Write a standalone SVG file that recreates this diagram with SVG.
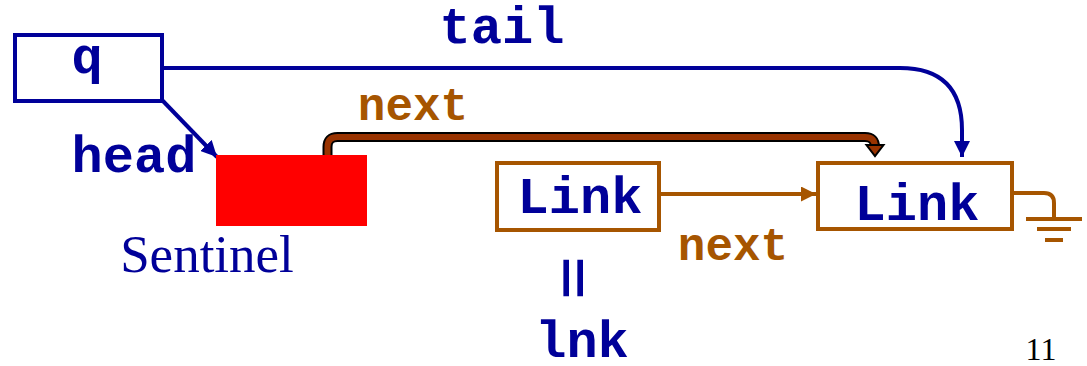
<svg xmlns="http://www.w3.org/2000/svg" width="1087" height="366" viewBox="0 0 1087 366">
  <style>
    .mono { font-family: "Liberation Mono", "DejaVu Sans Mono", monospace; font-weight: bold; text-anchor: middle; }
    .blue { fill: #000099; }
    .brown { fill: #A65500; }
    .big { font-size: 52px; }
    .small { font-size: 46px; }
    .serif { font-family: "Liberation Serif", "Times New Roman", serif; text-anchor: middle; }
    .boxB { fill: #ffffff; stroke: #000099; stroke-width: 4; }
    .boxO { fill: #ffffff; stroke: #A65500; stroke-width: 4; }
  </style>
  <defs>
    <marker id="arrBlue" viewBox="0 0 10 10" refX="10" refY="5" markerWidth="16" markerHeight="16" markerUnits="userSpaceOnUse" orient="auto">
      <path d="M0,0 L10,5 L0,10 z" fill="#000099"/>
    </marker>
    <marker id="arrBrown" viewBox="0 0 10 10" refX="10" refY="5" markerWidth="15" markerHeight="15" markerUnits="userSpaceOnUse" orient="auto">
      <path d="M0,0 L10,5 L0,10 z" fill="#A65500"/>
    </marker>
  </defs>

  <!-- connectors -->
  <g id="connectors" fill="none">
    <!-- q -> tail Link -->
    <path d="M162,68 H900 Q962,68 962,130 V157" stroke="#000099" stroke-width="4" marker-end="url(#arrBlue)"/>
    <!-- q -> head sentinel -->
    <path d="M162,100 L217,157" stroke="#000099" stroke-width="4" marker-end="url(#arrBlue)"/>
    <!-- sentinel next: outlined thick arrow -->
    <path d="M327.5,163 V147 Q327.5,137 337.5,137 H865 Q875,137 875,147" stroke="#000000" stroke-width="10"/>
    <path d="M327.5,162 V147 Q327.5,137 337.5,137 H865 Q875,137 875,147" stroke="#993300" stroke-width="6"/>
    <path d="M866.5,145 H883.5 L875,156 Z" fill="#993300" stroke="#000000" stroke-width="2" stroke-linejoin="miter"/>
    <!-- Link -> Link next -->
    <path d="M660,194 H816" stroke="#A65500" stroke-width="4" marker-end="url(#arrBrown)"/>
    <!-- null ground -->
    <path d="M1013,193 H1044 Q1054,193 1054,203 V219" stroke="#A65500" stroke-width="4"/>
    <path d="M1026,219 H1082 M1037,229 H1071 M1045,240 H1063" stroke="#A65500" stroke-width="4"/>
  </g>

  <!-- q pointer box -->
  <g id="q">
    <rect class="boxB" x="15" y="35" width="147" height="66"/>
    <text class="mono big blue" x="87" y="73">q</text>
  </g>

  <!-- sentinel -->
  <g id="sentinel">
    <rect x="216" y="155" width="151" height="71" fill="#ff0000"/>
    <text class="serif blue" x="207" y="272" font-size="53">Sentinel</text>
  </g>

  <!-- first link -->
  <g id="link1">
    <rect class="boxO" x="497" y="163" width="162" height="67"/>
    <text class="mono big blue" x="580" y="213">Link</text>
  </g>

  <!-- second link -->
  <g id="link2">
    <rect class="boxO" x="818" y="163" width="194" height="66"/>
    <text class="mono big blue" x="917" y="220">Link</text>
  </g>

  <!-- labels -->
  <g id="labels">
    <text class="mono big blue" x="502" y="43">tail</text>
    <text class="mono big blue" x="134" y="172">head</text>
    <text class="mono small brown" x="413" y="120">next</text>
    <text class="mono small brown" x="733" y="260">next</text>
    <text class="mono big blue" transform="translate(571,278) rotate(90) scale(1.4,1)" x="0" y="16">=</text>
    <text class="mono big blue" x="582" y="357">lnk</text>
    <text class="serif" x="1041" y="360" font-size="32" fill="#000000">11</text>
  </g>
</svg>
